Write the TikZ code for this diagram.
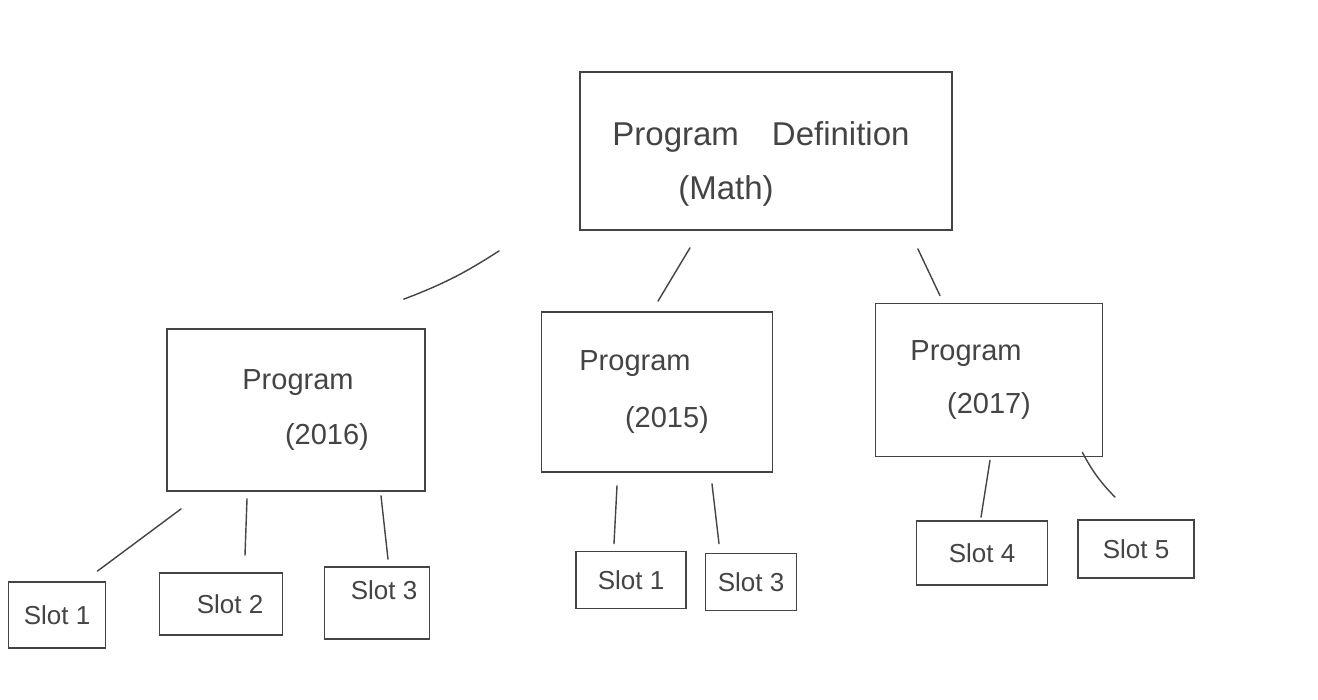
\documentclass[tikz,border=0pt]{standalone}
\usepackage{fontspec}
\setmainfont{Liberation Sans}
\definecolor{ink}{RGB}{68,68,68}
\begin{document}
\begin{tikzpicture}[x=1pt,y=-1pt,
  box/.style={draw=ink, line width=1.7pt, rectangle, inner sep=0pt, text=ink, align=center},
  conn/.style={draw=ink, line width=1.4pt, line cap=round},
  big/.style={font=\fontsize{33}{40}\selectfont},
  mid/.style={font=\fontsize{29}{35}\selectfont},
  small/.style={font=\fontsize{26}{30}\selectfont}]
\useasboundingbox (0,0) rectangle (1318,700);
\fill[white] (0,0) rectangle (1318,700);
% main boxes
\node[box, big, minimum width=372pt, minimum height=158pt] (top) at (766,151)
  {\rule{0pt}{50pt}\hspace*{-10pt}Program\quad Definition\\[14pt]\hspace*{-80pt}(Math)};
\node[box, mid, minimum width=258pt, minimum height=162pt] (p16) at (296,410)
  {\hspace*{4pt}Program\\[20pt]\hspace*{62pt}(2016)};
\node[box, mid, minimum width=231pt, minimum height=160pt] (p15) at (657,392)
  {\hspace*{-44pt}Program\\[22pt]\hspace*{20pt}(2015)};
\node[box, mid, minimum width=227pt, minimum height=153pt] (p17) at (989,380)
  {\hspace*{-46pt}Program\\[18pt](2017)};
% slots
\node[box, small, minimum width=97pt, minimum height=66pt] (s1) at (57,615) {Slot 1};
\node[box, small, minimum width=123pt, minimum height=62pt] (s2) at (221,604) {\hspace*{18pt}Slot 2};
\node[box, small, minimum width=105pt, minimum height=72pt, text depth=26pt] (s3) at (377,603) {\hspace*{14pt}Slot 3};
\node[box, small, minimum width=110pt, minimum height=57pt] (m1) at (631,580) {Slot 1};
\node[box, small, minimum width=91pt, minimum height=57pt] (m3) at (751,582) {Slot 3};
\node[box, small, minimum width=131pt, minimum height=64pt] (s4) at (982,553) {Slot 4};
\node[box, small, minimum width=116pt, minimum height=58pt] (s5) at (1136,549) {Slot 5};
% connectors
\draw[conn] ([shift={(-80,20)}]top.south west) to[bend left=6] ([shift={(-22,-29)}]p16.north east);
\draw[conn] ([shift={(-76,17)}]top.south) -- ([shift={(1,-10)}]p15.north);
\draw[conn] ([shift={(-35,18)}]top.south east) -- ([shift={(-49,-7)}]p17.north);
\draw[conn] ([shift={(15,17)}]p16.south west) -- ([shift={(-9,-10)}]s1.north east);
\draw[conn] ([shift={(-49,7)}]p16.south) -- ([shift={(24,-17)}]s2.north);
\draw[conn] ([shift={(85,4)}]p16.south) -- ([shift={(11,-7)}]s3.north);
\draw[conn] ([shift={(-40,13)}]p15.south) -- ([shift={(-17,-7)}]m1.north);
\draw[conn] ([shift={(55,11)}]p15.south) -- ([shift={(-32,-9)}]m3.north);
\draw[conn] ([shift={(1,3)}]p17.south) -- ([shift={(-1,-3)}]s4.north);
\draw[conn] ([shift={(-21,-5)}]p17.south east) to[bend right=8] ([shift={(-21,-22)}]s5.north);
\end{tikzpicture}
\end{document}
